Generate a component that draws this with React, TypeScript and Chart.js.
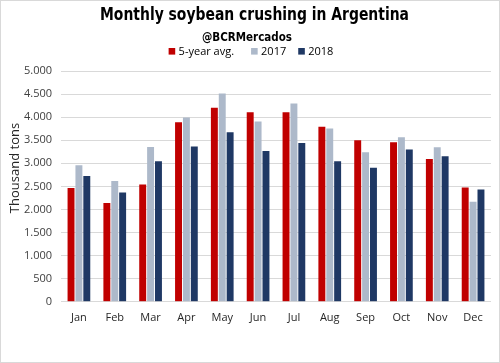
import React, { useEffect, useRef } from "react";
import { Chart, registerables } from "chart.js";

Chart.register(...registerables);

const months = ["Jan", "Feb", "Mar", "Apr", "May", "Jun", "Jul", "Aug", "Sep", "Oct", "Nov", "Dec"];
const avg5 = [2464, 2138, 2543, 3891, 4203, 4109, 4109, 3790, 3500, 3457, 3094, 2478];
const y2017 = [2957, 2616, 3355, 3993, 4514, 3906, 4297, 3754, 3239, 3565, 3348, 2167];
const y2018 = [2725, 2370, 3043, 3362, 3674, 3268, 3442, 3043, 2906, 3297, 3152, 2435];
const seriesNames = ["5-year avg.", "2017", "2018"];
const seriesColors = ["#C00000", "#ADB9CA", "#1F3864"];
const titleText = "Monthly soybean crushing in Argentina";
const subtitleText = "@BCRMercados";
const yTitle = "Thousand tons";

const headerPlugin = {
  id: "header",
  afterDraw(chart: any) {
    const ctx = chart.ctx;
    ctx.save();
    ctx.fillStyle = "#000";
    ctx.textBaseline = "alphabetic";
    ctx.textAlign = "center";
    // title
    ctx.save();
    ctx.font = "bold 18px 'DejaVu Sans Condensed', 'DejaVu Sans', sans-serif";
    const tw = ctx.measureText(titleText).width;
    ctx.translate(253.5, 18.5);
    ctx.scale(309 / tw, 1);
    ctx.fillText(titleText, 0, 0);
    ctx.restore();
    // subtitle
    ctx.save();
    ctx.font = "bold 12.5px 'DejaVu Sans Condensed', 'DejaVu Sans', sans-serif";
    const sw = ctx.measureText(subtitleText).width;
    ctx.translate(246, 39.5);
    ctx.scale(90 / sw, 1);
    ctx.fillText(subtitleText, 0, 0);
    ctx.restore();
    // legend
    ctx.font = "11px 'Open Sans', sans-serif";
    ctx.textAlign = "left";
    const box = 6.6;
    const gap = 3.4;
    const itemGaps = [17, 12, 0];
    const widths = seriesNames.map((n) => ctx.measureText(n).width);
    let total = 0;
    widths.forEach((w, i) => (total += box + gap + w + itemGaps[i]));
    let x = 250 - total / 2;
    seriesNames.forEach((n, i) => {
      ctx.fillStyle = seriesColors[i];
      ctx.fillRect(x, 47, box, box);
      ctx.fillStyle = "#000";
      ctx.fillText(n, x + box + gap, 53.5);
      x += box + gap + widths[i] + itemGaps[i];
    });
    // y title
    ctx.translate(14, 167);
    ctx.rotate(-Math.PI / 2);
    ctx.font = "13px 'Open Sans', sans-serif";
    ctx.fillStyle = "#262626";
    ctx.textAlign = "center";
    ctx.textBaseline = "middle";
    ctx.fillText(yTitle, 0, 0);
    ctx.restore();
  },
};

export default function App() {
  const ref = useRef<HTMLCanvasElement>(null);
  useEffect(() => {
    if (!ref.current) return;
    const chart = new Chart(ref.current, {
      type: "bar",
      data: {
        labels: months,
        datasets: [
          { label: seriesNames[0], data: avg5, backgroundColor: seriesColors[0] },
          { label: seriesNames[1], data: y2017, backgroundColor: seriesColors[1] },
          { label: seriesNames[2], data: y2018, backgroundColor: seriesColors[2] },
        ],
      },
      plugins: [headerPlugin],
      options: {
        animation: false,
        responsive: false,
        maintainAspectRatio: false,
        layout: { padding: { left: 0, right: 8, top: 70, bottom: 29 } },
        datasets: { bar: { categoryPercentage: 0.66, barPercentage: 0.88 } },
        plugins: {
          title: { display: false },
          subtitle: { display: false },
          legend: { display: false },
          tooltip: { enabled: false },
        },
        scales: {
          x: {
            grid: { display: false, drawTicks: false },
            border: { display: false },
            ticks: { color: "#262626", padding: 9, font: { family: "'Open Sans', sans-serif", size: 11 }, maxRotation: 0 },
          },
          y: {
            min: 0,
            max: 5000,
            ticks: {
              stepSize: 500,
              color: "#404040",
              padding: 9,
              font: { family: "'Open Sans', sans-serif", size: 11 },
              callback: (v: any) => Number(v).toLocaleString("de-DE"),
            },
            grid: { color: "#D9D9D9", drawTicks: false, lineWidth: 1 },
            border: { display: false },
            afterFit: (scale: any) => {
              scale.width = 60;
            },
          },
        },
      },
    });
    return () => chart.destroy();
  }, []);
  return (
    <div style={{ position: "absolute", left: 0, top: 0, width: 500, height: 363, boxSizing: "border-box", border: "1px solid #D9D9D9", background: "#fff" }}>
      <canvas ref={ref} width={498} height={361} style={{ display: "block" }} />
    </div>
  );
}
